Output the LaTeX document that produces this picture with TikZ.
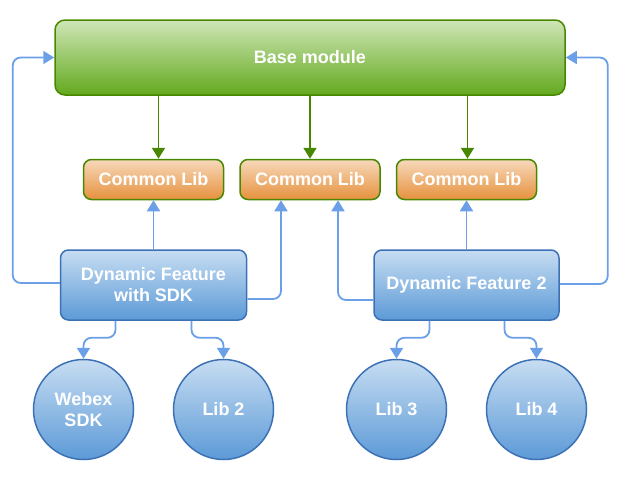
\documentclass[tikz,border=0pt]{standalone}
\usepackage{fontspec}
\setmainfont{Liberation Sans}
\usetikzlibrary{positioning, arrows.meta}
\definecolor{ModGreen}{RGB}{72, 135, 0}
\definecolor{ModTop}{RGB}{207, 230, 183}
\definecolor{ModBottom}{RGB}{99, 169, 30}
\definecolor{LibTop}{RGB}{247, 217, 187}
\definecolor{LibBottom}{RGB}{230, 145, 61}
\definecolor{FeatTop}{RGB}{199, 221, 242}
\definecolor{FeatBottom}{RGB}{92, 154, 215}
\definecolor{FeatBlue}{RGB}{60, 114, 181}
\definecolor{LinkBlue}{RGB}{107, 160, 232}

\begin{document}
\begin{tikzpicture}[x=1pt, y=-1pt, node distance=15pt, font=\fontsize{18}{21}\selectfont\bfseries]
    \tikzstyle{modbox} = [rectangle, draw=ModGreen, top color=ModTop, bottom color=ModBottom, text=white, rounded corners=10pt, minimum width=510pt, minimum height=75pt, line width=1.5pt, inner sep=0pt]
    \tikzstyle{commonbox} = [rectangle, draw=ModGreen, top color=LibTop, bottom color=LibBottom, text=white, rounded corners=8pt, minimum width=140pt, minimum height=40pt, line width=1.5pt, inner sep=0pt]
    \tikzstyle{featbox} = [rectangle, draw=FeatBlue, top color=FeatTop, bottom color=FeatBottom, text=white, align=center, rounded corners=8pt, minimum width=186pt, minimum height=70pt, line width=1.5pt, inner sep=0pt]
    \tikzstyle{libcircle} = [circle, draw=FeatBlue, top color=FeatTop, bottom color=FeatBottom, text=white, align=center, minimum size=100pt, line width=1.5pt, inner sep=0pt]
    \tikzstyle{greenlink} = [line width=1.8pt, -{Triangle[length=11pt, width=13pt]}, color=ModGreen]
    \tikzstyle{bluelink} = [line width=1.8pt, -{Triangle[length=11pt, width=13pt]}, color=LinkBlue, rounded corners=8pt]

    \useasboundingbox (0,0) rectangle (640,480);

    \node [modbox] (base) at (310,57.5) {Base module};
    \node [commonbox, below=63pt of base] (common2) {Common Lib};
    \node [commonbox, left=of common2] (common1) {Common Lib};
    \node [commonbox, right=of common2] (common3) {Common Lib};
    \node [featbox, below=49pt of common1] (feat1) {Dynamic Feature\\with SDK};
    \node [featbox, below=49pt of common3, minimum width=185pt] (feat2) {Dynamic Feature 2};
    \node [libcircle, below=38pt of feat1, xshift=-70pt] (webex) {Webex\\SDK};
    \node [libcircle, below=38pt of feat1, xshift=70pt] (lib2) {Lib 2};
    \node [libcircle, below=38pt of feat2, xshift=-70pt] (lib3) {Lib 3};
    \node [libcircle, below=38pt of feat2, xshift=70pt] (lib4) {Lib 4};

    % base module feeds the common libs
    \draw [greenlink] ([xshift=5pt]base.south -| common1) -- ([xshift=5pt]common1.north);
    \draw [greenlink] (base.south -| common2) -- (common2.north);
    \draw [greenlink] ([xshift=1pt]base.south -| common3) -- ([xshift=1pt]common3.north);

    % features use the common libs
    \draw [bluelink] (feat1.north) -- (common1.south);
    \draw [bluelink] ([yshift=-14pt]feat1.east) -| ([xshift=-29pt]common2.south);
    \draw [bluelink] ([yshift=-15pt]feat2.west) -| ([xshift=28pt]common2.south);
    \draw [bluelink] (feat2.north) -- (common3.south);

    % features back to the base module
    \draw [bluelink] ([yshift=2pt]feat1.west) -- ++(-47pt,0) |- (base.west);
    \draw [bluelink] ([yshift=1pt]feat2.east) -- ++(48pt,0) |- (base.east);

    % features down to their libs
    \draw [bluelink] ([xshift=-38pt]feat1.south) -- ++(0,-17pt) -| (webex.north);
    \draw [bluelink] ([xshift=38pt]feat1.south) -- ++(0,-17pt) -| (lib2.north);
    \draw [bluelink] ([xshift=-37pt]feat2.south) -- ++(0,-17pt) -| (lib3.north);
    \draw [bluelink] ([xshift=38pt]feat2.south) -- ++(0,-17pt) -| (lib4.north);
\end{tikzpicture}
\end{document}
